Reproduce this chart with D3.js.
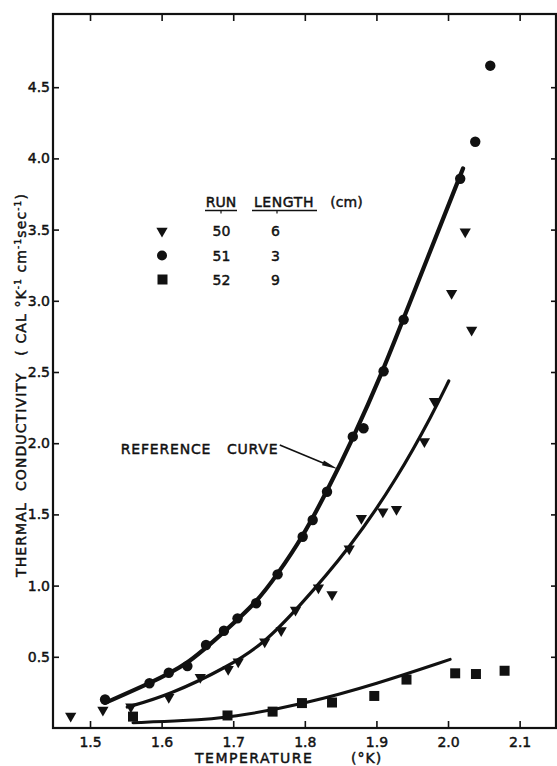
<!DOCTYPE html>
<html>
<head>
<meta charset="utf-8">
<script src="https://cdn.jsdelivr.net/npm/d3@7"></script>
<style>
    body { margin: 0; background: #fff; }
    svg text { font-family: "DejaVu Sans", sans-serif; fill: #111; stroke: #111; stroke-width: 0.45px; white-space: pre; }
</style>
</head>
<body>
<div id="mainChart"></div>
<script>
// run 50 (triangles, 6 cm)
var run50T = [1.473, 1.518, 1.557, 1.610, 1.654, 1.693, 1.707, 1.744, 1.767, 1.787, 1.819, 1.838, 1.862, 1.879, 1.909, 1.928, 1.967, 1.981, 2.005, 2.024, 2.033];
var run50K = [0.084, 0.126, 0.150, 0.216, 0.356, 0.412, 0.466, 0.606, 0.685, 0.829, 0.985, 0.937, 1.258, 1.473, 1.519, 1.536, 2.012, 2.295, 3.053, 3.485, 2.795];
// run 51 (circles, 3 cm)
var run51T = [1.521, 1.583, 1.610, 1.636, 1.662, 1.687, 1.706, 1.732, 1.762, 1.797, 1.811, 1.831, 1.867, 1.882, 1.910, 1.938, 2.017, 2.038, 2.059];
var run51K = [0.200, 0.314, 0.388, 0.435, 0.583, 0.683, 0.770, 0.876, 1.079, 1.343, 1.461, 1.659, 2.046, 2.105, 2.505, 2.868, 3.857, 4.117, 4.651];
// run 52 (squares, 9 cm)
var run52T = [1.560, 1.692, 1.755, 1.796, 1.838, 1.897, 1.942, 2.010, 2.039, 2.079];
var run52K = [0.080, 0.088, 0.115, 0.175, 0.179, 0.225, 0.340, 0.384, 0.379, 0.402];

// smooth curves drawn through each run
var curve50T = [1.552, 1.610, 1.693, 1.744, 1.788, 1.863, 1.930, 1.980, 2.001];
var curve50K = [0.147, 0.230, 0.430, 0.600, 0.829, 1.262, 1.760, 2.220, 2.437];
var curve51T = [1.521, 1.584, 1.635, 1.686, 1.732, 1.761, 1.797, 1.831, 1.867, 1.909, 1.937, 2.021];
var curve51K = [0.176, 0.316, 0.440, 0.670, 0.878, 1.074, 1.341, 1.664, 2.030, 2.507, 2.865, 3.930];
var curve52T = [1.560, 1.630, 1.700, 1.800, 1.900, 2.003];
var curve52K = [0.037, 0.050, 0.075, 0.170, 0.309, 0.482];

var xTicks = [1.5, 1.6, 1.7, 1.8, 1.9, 2.0, 2.1];
var yTicks = [0.5, 1.0, 1.5, 2.0, 2.5, 3.0, 3.5, 4.0, 4.5];

var legendRuns = ["50", "51", "52"];
var legendLengths = ["6", "3", "9"];

function drawChart() {
    var width = 557,
        height = 766;

    var svg = d3.select("#mainChart")
        .append("svg")
        .attr("width", width)
        .attr("height", height);

    var x = d3.scaleLinear().domain([1.4483, 2.1508]).range([53, 556]);
    var y = d3.scaleLinear().domain([0, 5.014]).range([728, 14]);

    var ink = "#111";

    // ticks on all four sides, pointing inward
    svg.append("g")
        .attr("transform", "translate(0,728)")
        .call(d3.axisBottom(x).tickValues(xTicks).tickSize(-7).tickPadding(9).tickFormat(d3.format(".1f")));
    svg.append("g")
        .attr("transform", "translate(53,0)")
        .call(d3.axisLeft(y).tickValues(yTicks).tickSize(-6).tickPadding(3).tickFormat(d3.format(".1f")));
    svg.append("g")
        .attr("transform", "translate(0,14)")
        .call(d3.axisTop(x).tickValues(xTicks).tickSize(-7).tickFormat(""));
    svg.append("g")
        .attr("transform", "translate(556,0)")
        .call(d3.axisRight(y).tickValues(yTicks).tickSize(-5).tickFormat(""));

    svg.selectAll(".domain").remove();
    svg.selectAll(".tick line").attr("stroke", ink).attr("stroke-width", 1.6);
    svg.selectAll(".tick text")
        .attr("fill", ink)
        .style("font-size", "14px")
        .style("font-family", "DejaVu Sans, sans-serif");

    // frame
    svg.append("rect")
        .attr("x", 53).attr("y", 14)
        .attr("width", 503).attr("height", 714)
        .attr("fill", "none")
        .attr("stroke", ink)
        .attr("stroke-width", 2.2);

    // curves
    var line = d3.line()
        .x(function (d) { return x(d[0]); })
        .y(function (d) { return y(d[1]); })
        .curve(d3.curveBasis);

    var curves = [
        { t: curve51T, k: curve51K, w: 4.2 },
        { t: curve50T, k: curve50K, w: 3.2 },
        { t: curve52T, k: curve52K, w: 3.0 }
    ];
    curves.forEach(function (c) {
        svg.append("path")
            .attr("d", line(d3.zip(c.t, c.k)))
            .attr("fill", "none")
            .attr("stroke", ink)
            .attr("stroke-width", c.w)
            .attr("stroke-linecap", "round");
    });

    // markers
    var tri = d3.symbol().type(d3.symbolTriangle).size(55);
    var sq = d3.symbol().type(d3.symbolSquare).size(100);

    svg.append("g").selectAll("path")
        .data(d3.zip(run50T, run50K))
        .join("path")
        .attr("d", tri)
        .attr("transform", function (d) { return "translate(" + x(d[0]) + "," + y(d[1]) + ") rotate(180)"; })
        .attr("fill", ink);

    svg.append("g").selectAll("circle")
        .data(d3.zip(run51T, run51K))
        .join("circle")
        .attr("cx", function (d) { return x(d[0]); })
        .attr("cy", function (d) { return y(d[1]); })
        .attr("r", 5.2)
        .attr("fill", ink);

    svg.append("g").selectAll("path")
        .data(d3.zip(run52T, run52K))
        .join("path")
        .attr("d", sq)
        .attr("transform", function (d) { return "translate(" + x(d[0]) + "," + y(d[1]) + ")"; })
        .attr("fill", ink);

    // reference curve label + arrow
    svg.append("text")
        .attr("x", x(1.543)).attr("y", y(1.925))
        .style("font-size", "14px")
        .style("letter-spacing", "0.8px")
        .text("REFERENCE   CURVE");

    var a0 = [x(1.765), y(1.987)], a1 = [x(1.846), y(1.819)];
    var ang = Math.atan2(a1[1] - a0[1], a1[0] - a0[0]);
    svg.append("line")
        .attr("x1", a0[0]).attr("y1", a0[1])
        .attr("x2", a1[0] - 10 * Math.cos(ang)).attr("y2", a1[1] - 10 * Math.sin(ang))
        .attr("stroke", ink).attr("stroke-width", 1.6);
    svg.append("path")
        .attr("d", "M0,0L-16,-2.6L-16,2.6Z")
        .attr("transform", "translate(" + a1[0] + "," + a1[1] + ") rotate(" + (ang * 180 / Math.PI) + ")")
        .attr("fill", ink);

    // legend
    var legend = svg.append("g");
    legend.append("text").attr("x", 221).attr("y", 206.5).attr("text-anchor", "middle")
        .style("font-size", "14px").text("RUN");
    legend.append("text").attr("x", 284).attr("y", 206.5).attr("text-anchor", "middle")
        .style("font-size", "14px").style("letter-spacing", "0.6px").text("LENGTH");
    legend.append("text").attr("x", 346.5).attr("y", 206.5).attr("text-anchor", "middle")
        .style("font-size", "14px").text("(cm)");
    [[205, 237, 221], [252, 317, 277]].forEach(function (u) {
        legend.append("line").attr("x1", u[0]).attr("x2", u[1]).attr("y1", 210.5).attr("y2", 210.5)
            .attr("stroke", ink).attr("stroke-width", 1.5);
        legend.append("line").attr("x1", u[2]).attr("x2", u[2]).attr("y1", 210.5).attr("y2", 213.5)
            .attr("stroke", ink).attr("stroke-width", 1.2);
    });

    var rowY = [231, 255.5, 279.5];
    legend.append("path").attr("d", tri).attr("transform", "translate(162," + rowY[0] + ") rotate(180)").attr("fill", ink);
    legend.append("circle").attr("cx", 162).attr("cy", rowY[1]).attr("r", 5).attr("fill", ink);
    legend.append("path").attr("d", sq).attr("transform", "translate(162.5," + rowY[2] + ")").attr("fill", ink);
    legendRuns.forEach(function (r, i) {
        legend.append("text").attr("x", 221.5).attr("y", rowY[i] + 5).attr("text-anchor", "middle")
            .style("font-size", "14px").text(r);
        legend.append("text").attr("x", 275.5).attr("y", rowY[i] + 5).attr("text-anchor", "middle")
            .style("font-size", "14px").text(legendLengths[i]);
    });

    // axis titles
    svg.append("text")
        .attr("x", 195).attr("y", 763)
        .style("font-size", "14px")
        .style("letter-spacing", "1.5px")
        .text("TEMPERATURE");
    svg.append("text")
        .attr("x", 351).attr("y", 763)
        .style("font-size", "14px")
        .style("letter-spacing", "1px")
        .text("(°K)");

    var yTitle = svg.append("text")
        .attr("transform", "translate(26,577) rotate(-90)")
        .style("font-size", "14px")
        .style("letter-spacing", "1.1px");
    yTitle.append("tspan").text("THERMAL  CONDUCTIVITY   ( CAL °K");
    yTitle.append("tspan").attr("dy", -5).style("font-size", "9px").text("-1");
    yTitle.append("tspan").attr("dy", 5).text(" cm");
    yTitle.append("tspan").attr("dy", -5).style("font-size", "9px").text("-1");
    yTitle.append("tspan").attr("dy", 5).text("sec");
    yTitle.append("tspan").attr("dy", -5).style("font-size", "9px").text("-1");
    yTitle.append("tspan").attr("dy", 5).text(")");
}

drawChart();
</script>
</body>
</html>
